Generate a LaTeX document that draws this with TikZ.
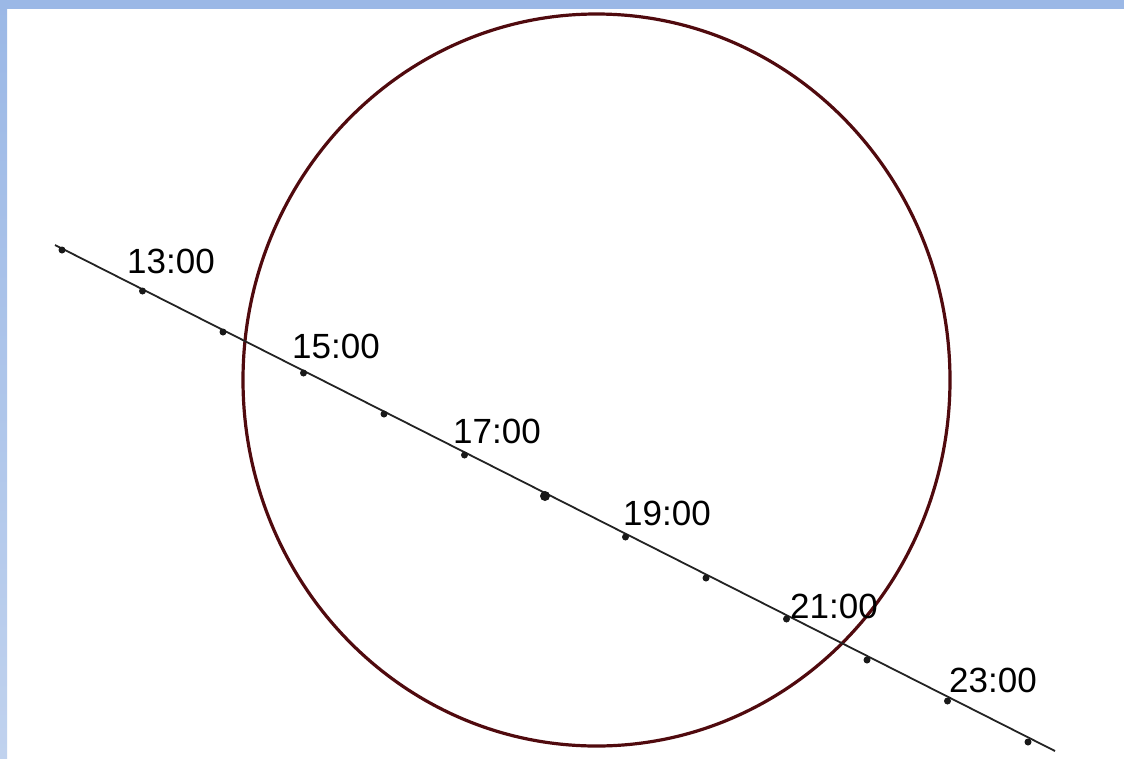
\documentclass[tikz,border=0pt]{standalone}
\usepackage{fontspec}
\setmainfont{Liberation Sans}
\definecolor{bandtop}{RGB}{155,184,230}
\definecolor{bandbot}{RGB}{192,210,238}
\definecolor{orbitred}{RGB}{80,10,14}
\definecolor{pathgray}{RGB}{35,35,35}
\begin{document}
\begin{tikzpicture}[x=1pt,y=-1pt,
  orbit/.style={draw=orbitred,line width=3.2pt},
  track/.style={draw=pathgray,line width=1.8pt},
  tick/.style={circle,fill=black!90,inner sep=0pt,minimum size=7pt},
  bigtick/.style={circle,fill=black!90,inner sep=0pt,minimum size=10pt},
  timelabel/.style={anchor=base west,inner sep=0pt,text=black,font=\fontsize{35}{40}\selectfont}]
\useasboundingbox (0,0) rectangle (1124,758);
\fill[white] (0,0) rectangle (1124,758);
\shade[top color=bandtop,bottom color=bandbot] (0,0) rectangle (7,758);
\fill[bandtop] (0,0) rectangle (1124,9);
% orbit ellipse
\draw[orbit] (596.5,380) ellipse [x radius=353.5, y radius=366];
% track
\coordinate (s) at (55,245);
\coordinate (e) at (1055,751);
\draw[track] (s) -- (e);
\foreach \k in {0,...,12}{
  \node[tick] (d\k) at ({62+80.5*\k},{250+41*\k}) {};
}
\node[bigtick] (mid) at (d6) {};
% labels
\node[timelabel] (l13) at (127,273) {13:00};
\node[timelabel] (l15) at (292,358) {15:00};
\node[timelabel] (l17) at (453,443) {17:00};
\node[timelabel] (l19) at (623,525) {19:00};
\node[timelabel] (l21) at (790,618) {21:00};
\node[timelabel] (l23) at (949,692) {23:00};
\end{tikzpicture}
\end{document}
